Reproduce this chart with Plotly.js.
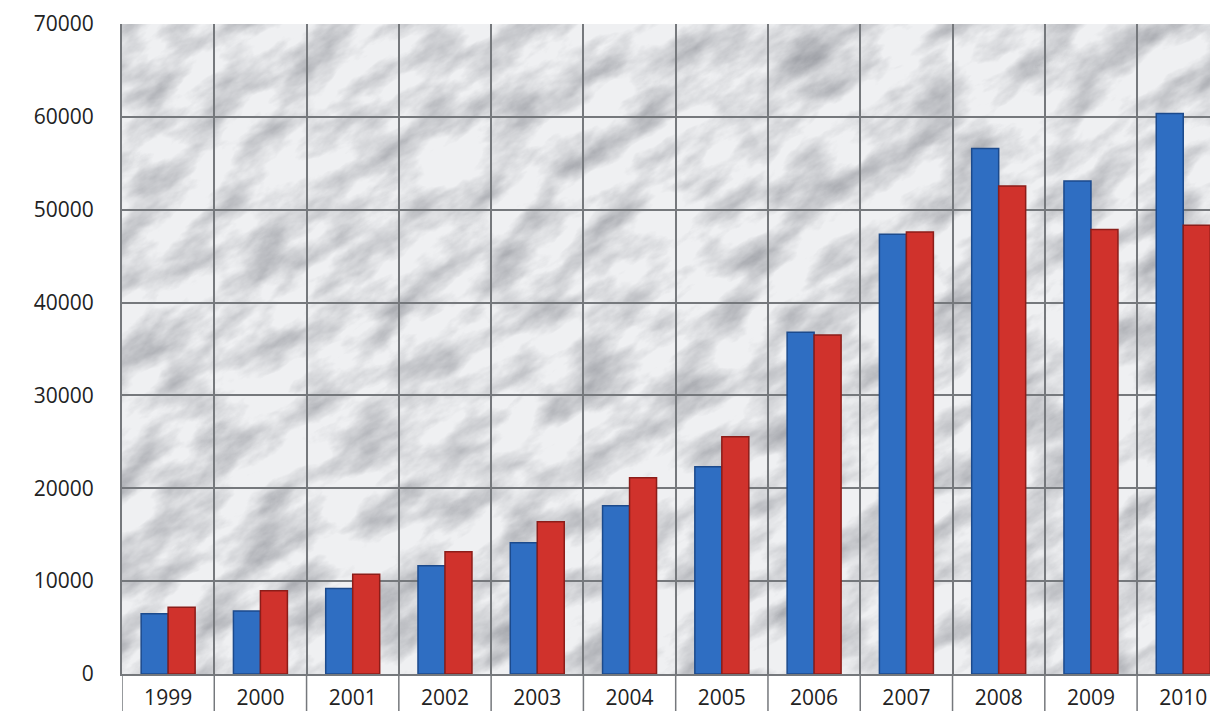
<!DOCTYPE html>
<html>
<head>
<meta charset="utf-8">
<script src="https://cdn.plot.ly/plotly-3.0.1.min.js"></script>
<style>html,body{margin:0;padding:0;background:#fff;}#chart{width:1210px;height:711px;}</style>
</head>
<body>
<div id="chart"></div>
<script>
const years = ['1999','2000','2001','2002','2003','2004','2005','2006','2007','2008','2009','2010'];
const seriesBlue = [6500, 6780, 9220, 11660, 14140, 18120, 22320, 36800, 47360, 56590, 53100, 60350];
const seriesRed  = [7190, 8970, 10730, 13170, 16400, 21130, 25550, 36500, 47610, 52560, 47860, 48330];
const yTicks = [0, 10000, 20000, 30000, 40000, 50000, 60000, 70000];

const marble = "<svg xmlns='http://www.w3.org/2000/svg' width='1088' height='650' viewBox='0 0 1088 650'>" +
  "<filter id='f' filterUnits='userSpaceOnUse' x='-800' y='-800' width='2800' height='2400'>" +
  "<feTurbulence type='fractalNoise' baseFrequency='0.014 0.03' numOctaves='6' seed='11'/>" +
  "<feColorMatrix type='matrix' values='0 0 0 0 0.30  0 0 0 0 0.31  0 0 0 0 0.34  1.6 0 0 0 -0.62'/>" +
  "</filter>" +
  "<rect width='1088' height='650' fill='#eff0f2'/>" +
  "<rect x='-800' y='-800' width='2800' height='2400' filter='url(#f)' transform='rotate(-32 544 325)'/>" +
  "</svg>";
const marbleURI = 'data:image/svg+xml;charset=utf-8,' + encodeURIComponent(marble);

const traces = [
  {type:'bar', x: years, y: seriesBlue, name:'A',
   marker:{color:'#2f6ec2', line:{color:'#1c4a8c', width:1.5}}},
  {type:'bar', x: years, y: seriesRed, name:'B',
   marker:{color:'#d0322c', line:{color:'#8c1d19', width:1.5}}}
];

const gridCol = '#75787c';
const shapes = years.map((y, i) => ({
  type:'line', xref:'x', yref:'paper', x0: i - 0.5, x1: i - 0.5, y0: 0, y1: -0.06,
  line:{color:gridCol, width:1.5}
}));
shapes.push({type:'line', xref:'x', yref:'paper', x0: years.length - 0.5, x1: years.length - 0.5, y0: 0, y1: -0.06,
  line:{color:gridCol, width:1.5}});

const layout = {
  width:1210, height:711,
  margin:{l:122, r:0, t:24, b:37},
  paper_bgcolor:'#ffffff',
  plot_bgcolor:'rgba(0,0,0,0)',
  showlegend:false,
  barmode:'group',
  bargap:0.415,
  bargroupgap:0,
  font:{family:'"Open Sans", sans-serif', size:21, color:'#222'},
  xaxis:{
    type:'category',
    range:[-0.5, 11.29],
    tickson:'boundaries',
    showgrid:true, gridcolor:gridCol, gridwidth:2,
    ticks:'', showline:true, linecolor:gridCol, linewidth:2,
    ticklabelstandoff:4,
    tickfont:{size:21, color:'#222'},
    fixedrange:true
  },
  yaxis:{
    range:[0, 70000],
    tickvals: yTicks,
    ticktext: yTicks.map(String),
    showgrid:true, gridcolor:gridCol, gridwidth:2,
    zeroline:false,
    showline:true, linecolor:gridCol, linewidth:2,
    ticks:'outside', ticklen:22, tickcolor:'rgba(0,0,0,0)',
    tickfont:{size:21, color:'#222'},
    fixedrange:true
  },
  images:[{source: marbleURI, xref:'paper', yref:'paper', x:0, y:1, sizex:1, sizey:1,
           sizing:'stretch', layer:'below', xanchor:'left', yanchor:'top'}],
  shapes: shapes
};

Plotly.newPlot('chart', traces, layout, {displayModeBar:false, staticPlot:true});
</script>
</body>
</html>
